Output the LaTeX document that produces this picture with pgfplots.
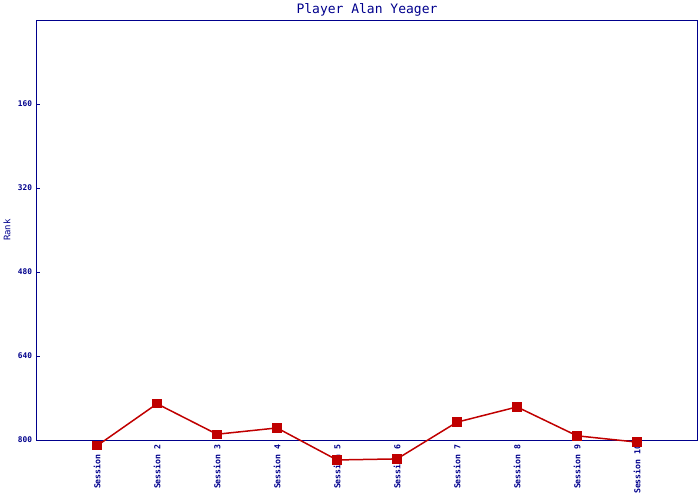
\documentclass[border=0pt]{standalone}
\usepackage{fontspec}
\setmainfont{DejaVu Sans Mono}
\setmonofont{DejaVu Sans Mono}
\usepackage{pgfplots}
\pgfplotsset{compat=1.18}
\definecolor{axisblue}{RGB}{0,0,140}
\definecolor{linered}{RGB}{192,0,0}
\begin{document}
\begin{tikzpicture}[x=1pt,y=1pt]
\useasboundingbox (-37,-60) rectangle (663,440);
\begin{axis}[
  at={(0,0)}, anchor=south west,
  scale only axis, width=660pt, height=420pt,
  xmin=0, xmax=11, ymin=0, ymax=800, y dir=reverse,
  clip=false,
  axis line style={axisblue, line width=1pt},
  /pgf/number format/assume math mode=true,
  xtick={1,...,10},
  xticklabels={Session 1,Session 2,Session 3,Session 4,Session 5,Session 6,Session 7,Session 8,Session 9,Session 10},
  xticklabel style={rotate=90, anchor=east, font=\fontsize{8.2}{9}\selectfont\bfseries, text=axisblue, xshift=-1pt},
  major x tick style={draw=none},
  ytick={160,320,480,640,800},
  ytick pos=left,
  yticklabel style={font=\fontsize{7.8}{8}\selectfont\bfseries, text=axisblue, xshift=-1.5pt},
  major y tick style={axisblue, line width=1pt},
  tick align=inside, major tick length=3pt,
  ylabel={Rank}, ylabel style={font=\fontsize{9}{10}\selectfont, text=axisblue, at={(axis description cs:-0.0455,0.5)}, anchor=center},
  title={Player Alan Yeager}, title style={font=\fontsize{13}{14}\selectfont, text=axisblue, yshift=-6pt},
]
\addplot[color=linered, line width=1.5pt, mark=square*, mark size=4.2pt, mark options={fill=linered, draw=linered, line width=0pt}]
coordinates {(1,811) (2,731) (3,789) (4,777) (5,838) (6,836) (7,766) (8,737) (9,792) (10,804)};
\end{axis}
\end{tikzpicture}
\end{document}
